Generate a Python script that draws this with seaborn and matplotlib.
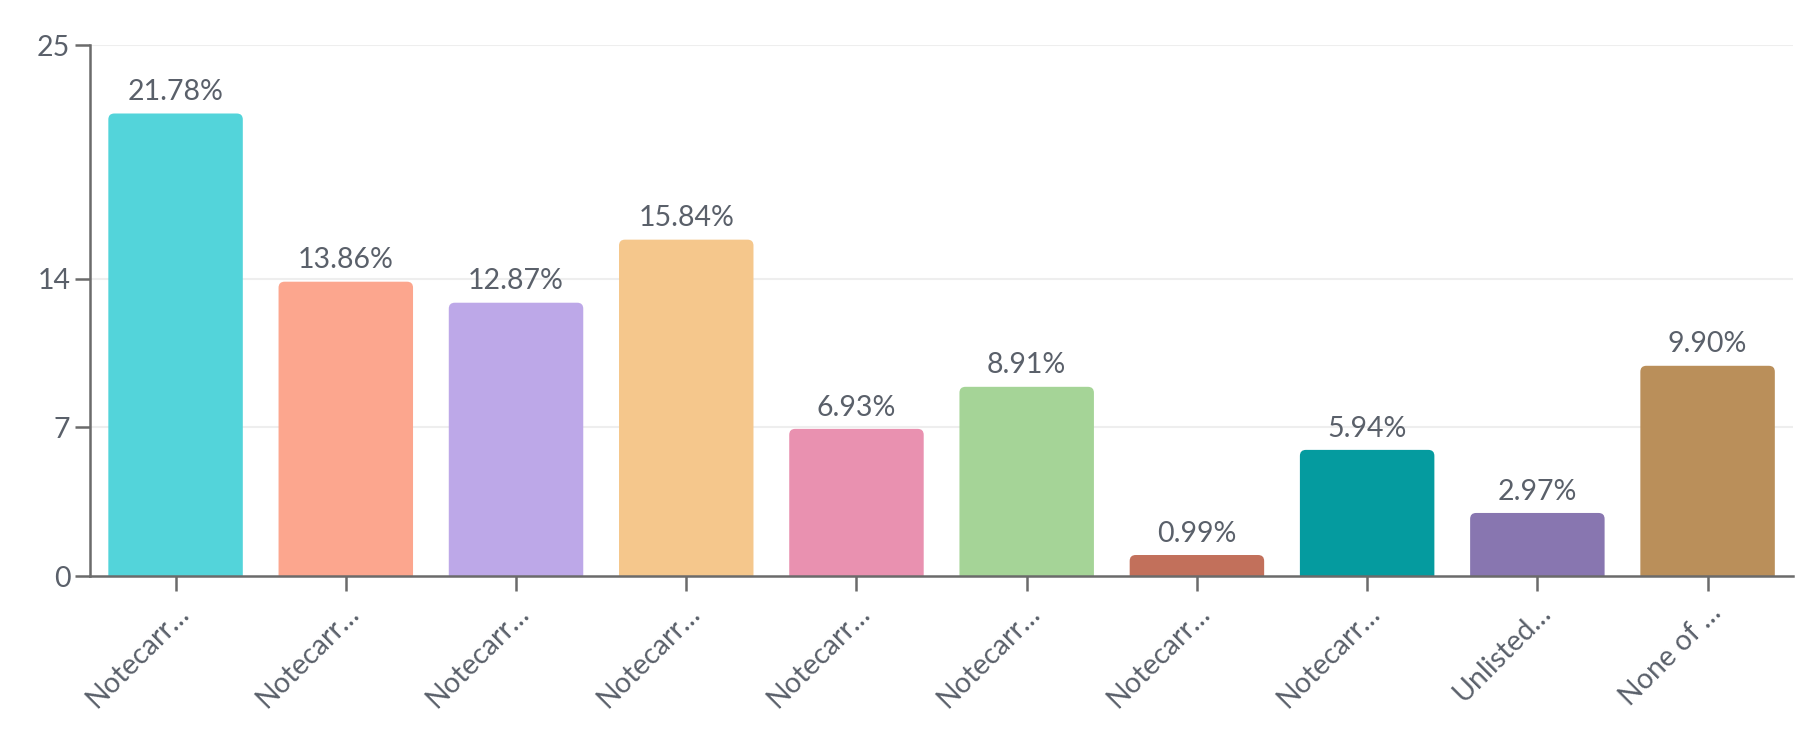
import numpy as np
import pandas as pd
import matplotlib
matplotlib.use("Agg")
import matplotlib.pyplot as plt
import seaborn as sns
from matplotlib.patches import FancyBboxPatch

labels = ["Notecarr…", "Notecarr…", "Notecarr…", "Notecarr…", "Notecarr…",
          "Notecarr…", "Notecarr…", "Notecarr…", "Unlisted…", "None of …"]
values = [21.78, 13.86, 12.87, 15.84, 6.93, 8.91, 0.99, 5.94, 2.97, 9.90]
colors = ["#53D4DA", "#FCA68E", "#BDA8E8", "#F5C78C", "#E991B0",
          "#A5D497", "#C2705B", "#059B9F", "#8876B0", "#BA8F5A"]
yticks = [0, 7, 14, 25]

sns.set_theme(style="white")
plt.rcParams['font.family'] = ['Lato', 'DejaVu Sans']
txt = "#5a606a"
axc = "#6b6b6b"

fig = plt.figure(figsize=(18.2, 7.52), dpi=100)
ax = fig.add_axes([0.0497, 0.234, 0.9353, 0.706])

df = pd.DataFrame({"pos": list(range(len(values))), "val": values})
sns.barplot(data=df, x="pos", y="val", hue="pos", palette=colors, legend=False,
            width=0.79, ax=ax, saturation=1)

ax.set_ylim(0, 25)
ax.set_xlim(-0.5, len(values) - 0.5)
ax.set_yticks(yticks)
ax.set_yticklabels([str(t) for t in yticks])
ax.set_xticks(range(len(values)))
ax.set_xticklabels(labels, rotation=45, ha="right", va="top", rotation_mode="anchor")
ax.set_xlabel("")
ax.set_ylabel("")

for t in yticks[1:]:
    ax.axhline(t, color="#eeeeee", lw=1.5, zorder=0)

# rounded bars
fig.canvas.draw()
bb = ax.get_window_extent()
xpp = (ax.get_xlim()[1] - ax.get_xlim()[0]) / bb.width
ypp = (ax.get_ylim()[1] - ax.get_ylim()[0]) / bb.height
r_px = 6
for p in list(ax.patches):
    x0, w, h = p.get_x(), p.get_width(), p.get_height()
    fc = p.get_facecolor()
    p.set_visible(False)
    rb = FancyBboxPatch((x0, -r_px * ypp), w, h + r_px * ypp,
                        boxstyle=f"round,pad=0,rounding_size={r_px * xpp}",
                        mutation_aspect=ypp / xpp, fc=fc, ec="none", zorder=2)
    ax.add_patch(rb)
    ax.annotate(f"{h:.2f}%", (x0 + w / 2, h), xytext=(0, 6), textcoords="offset points",
                ha="center", va="bottom", fontsize=20.5, color=txt)

for s in ["top", "right"]:
    ax.spines[s].set_visible(False)
for s in ["left", "bottom"]:
    ax.spines[s].set_color(axc)
    ax.spines[s].set_linewidth(1.8)
ax.tick_params(axis="both", length=11, width=1.8, color=axc, labelcolor=txt,
               labelsize=20.5, direction="out", left=True, bottom=True)
ax.tick_params(axis="x", pad=6)

fig.savefig("out.png", dpi=100, facecolor="white")
